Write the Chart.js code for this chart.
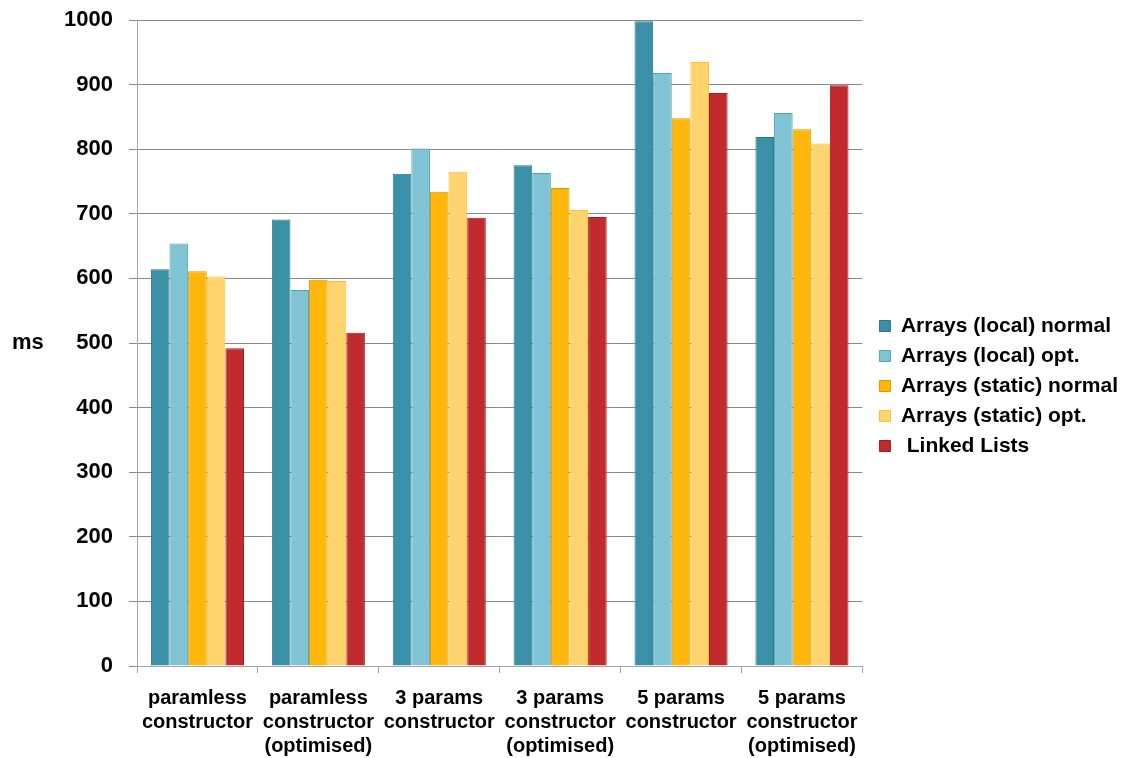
<!DOCTYPE html>
<html>
<head>
<meta charset="utf-8">
<script src="https://cdn.jsdelivr.net/npm/chart.js@4/dist/chart.umd.min.js"></script>
<style>
  html, body { margin: 0; padding: 0; background: #fff; }
  #wrap { width: 1122px; height: 758px; }
</style>
</head>
<body>
<div id="wrap"><canvas id="chart" width="1122" height="758"></canvas></div>
<script>
const categories = [
    ['paramless', 'constructor'],
    ['paramless', 'constructor', '(optimised)'],
    ['3 params', 'constructor'],
    ['3 params', 'constructor', '(optimised)'],
    ['5 params', 'constructor'],
    ['5 params', 'constructor', '(optimised)']
];
const localNormal = [614, 691, 762, 775, 998, 819];
const localOpt = [654, 582, 801, 763, 918, 856];
const staticNormal = [611, 598, 734, 740, 848, 831];
const staticOpt = [603, 596, 765, 706, 935, 809];
const linkedLists = [492, 516, 694, 695, 887, 899];

const yMax = 1000;
const yStep = 100;

const font = 'Arial, "Liberation Sans", sans-serif';

// "ms" is drawn upright to the left of the axis
const axisTitle = {
    id: 'axisTitle',
    afterDraw(chart) {
        const ctx = chart.ctx;
        const area = chart.chartArea;
        ctx.save();
        ctx.font = 'bold 22px ' + font;
        ctx.fillStyle = '#000';
        ctx.textAlign = 'left';
        ctx.textBaseline = 'middle';
        ctx.fillText('ms', 12, (area.top + area.bottom) / 2);
        ctx.restore();
    }
};

// nudge the legend a bit further from the plot
const legendShift = {
    id: 'legendShift',
    afterLayout(chart) {
        chart.legend.left += 8;
        chart.legend.top -= 3;
        chart.legend.bottom -= 3;
    }
};

function series(label, data, color, border) {
    return {
        label: label,
        data: data,
        backgroundColor: color,
        borderColor: border,
        borderWidth: 1,
        borderSkipped: 'bottom'
    };
}

const ctx = document.getElementById('chart').getContext('2d');
new Chart(ctx, {
    type: 'bar',
    data: {
        labels: categories,
        datasets: [
            series('Arrays (local) normal', localNormal, '#3A90A6', '#2C7588'),
            series('Arrays (local) opt.', localOpt, '#80C3D4', '#4FA2B8'),
            series('Arrays (static) normal', staticNormal, '#FFB70B', '#D99A00'),
            series('Arrays (static) opt.', staticOpt, '#FFD46E', '#FFC02A'),
            series(' Linked Lists', linkedLists, '#C12B2E', '#9E2024')
        ]
    },
    options: {
        responsive: false,
        animation: false,
        layout: { padding: { left: 0, top: 20, right: 2, bottom: 0 } },
        datasets: { bar: { barPercentage: 1, categoryPercentage: 0.77 } },
        scales: {
            x: {
                afterFit: (s) => { s.height = 92; },
                grid: {
                    display: true,
                    drawOnChartArea: false,
                    tickLength: 7,
                    color: '#a6a6a6'
                },
                border: { color: '#a6a6a6' },
                ticks: {
                    color: '#000',
                    font: { family: font, size: 20, weight: 'bold', lineHeight: 1.2 },
                    maxRotation: 0,
                    autoSkip: false,
                    padding: 13
                }
            },
            y: {
                min: 0,
                max: yMax,
                afterFit: (s) => {
                    s.width = 137;
                    s.paddingTop = 0;
                    s.paddingBottom = 0;
                },
                grid: { color: '#8a8a8a', tickLength: 8 },
                border: { color: '#a6a6a6' },
                ticks: {
                    stepSize: yStep,
                    color: '#000',
                    font: { family: font, size: 22, weight: 'bold' },
                    padding: 16,
                    callback: (v) => String(v)
                }
            }
        },
        plugins: {
            legend: {
                position: 'right',
                labels: {
                    color: '#000',
                    font: { family: font, size: 21, weight: 'bold' },
                    boxWidth: 11,
                    boxHeight: 11,
                    padding: 9
                }
            },
            tooltip: { enabled: false }
        }
    },
    plugins: [axisTitle, legendShift]
});
</script>
</body>
</html>
